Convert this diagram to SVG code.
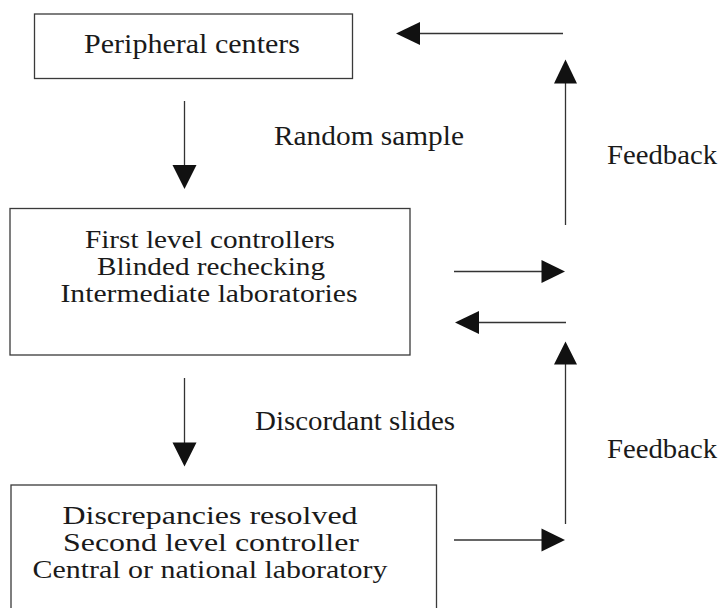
<svg xmlns="http://www.w3.org/2000/svg" width="723" height="608" viewBox="0 0 723 608">
<style>
.box{fill:#fff;stroke:#3a3a3a;stroke-width:1.3}
.t{font-size:27px;fill:#1a1a1a;text-anchor:middle}
.s{font-size:25px}
.c{stroke:#333;stroke-width:1.3;fill:none}
.h{fill:#111;stroke:none}
</style>
<rect width="723" height="608" fill="#fff"/>
<g font-family="Liberation Serif, Tinos, Times New Roman, DejaVu Serif, Noto Serif, serif">
<g id="peripheral">
<rect class="box" x="34.5" y="14" width="318" height="64.5"/>
<text class="t" x="192" y="53" textLength="216" lengthAdjust="spacingAndGlyphs">Peripheral centers</text>
</g>
<g id="first-level">
<rect class="box" x="10" y="208.5" width="400" height="146.5"/>
<text class="t s" x="210" y="248" textLength="250" lengthAdjust="spacingAndGlyphs">First level controllers</text>
<text class="t s" x="211" y="275" textLength="228" lengthAdjust="spacingAndGlyphs">Blinded rechecking</text>
<text class="t s" x="209" y="302" textLength="297" lengthAdjust="spacingAndGlyphs">Intermediate laboratories</text>
</g>
<g id="second-level">
<rect class="box" x="11" y="485" width="425.5" height="130"/>
<text class="t s" x="210" y="524" textLength="295" lengthAdjust="spacingAndGlyphs">Discrepancies resolved</text>
<text class="t s" x="211" y="551" textLength="296" lengthAdjust="spacingAndGlyphs">Second level controller</text>
<text class="t s" x="210" y="578" textLength="355" lengthAdjust="spacingAndGlyphs">Central or national laboratory</text>
</g>
<g id="labels">
<text class="t" x="369" y="145" textLength="190" lengthAdjust="spacingAndGlyphs">Random sample</text>
<text class="t" x="355" y="430" textLength="200" lengthAdjust="spacingAndGlyphs">Discordant slides</text>
<text class="t" x="662" y="164" textLength="110" lengthAdjust="spacingAndGlyphs">Feedback</text>
<text class="t" x="662" y="458" textLength="110" lengthAdjust="spacingAndGlyphs">Feedback</text>
</g>
</g>
<g id="connectors">
<line class="c" x1="184.5" y1="101" x2="184.5" y2="166"/>
<polygon class="h" points="172.5,165 196.5,165 184.5,189"/>
<line class="c" x1="184.5" y1="378" x2="184.5" y2="443"/>
<polygon class="h" points="172.5,442.5 196.5,442.5 184.5,466.5"/>
<line class="c" x1="563" y1="33.5" x2="419" y2="33.5"/>
<polygon class="h" points="396,33.5 420,22 420,45"/>
<line class="c" x1="565.5" y1="225" x2="565.5" y2="82"/>
<polygon class="h" points="565.5,59.5 554,83.5 577,83.5"/>
<line class="c" x1="454" y1="271.5" x2="543" y2="271.5"/>
<polygon class="h" points="565,271.5 541.5,260 541.5,283"/>
<line class="c" x1="566" y1="322.5" x2="478" y2="322.5"/>
<polygon class="h" points="455,322.5 479,311 479,334"/>
<line class="c" x1="565.5" y1="524" x2="565.5" y2="363"/>
<polygon class="h" points="565.5,341.5 554,364.5 577,364.5"/>
<line class="c" x1="454" y1="540" x2="543" y2="540"/>
<polygon class="h" points="565,540 541.5,528.5 541.5,551.5"/>
</g>
</svg>
